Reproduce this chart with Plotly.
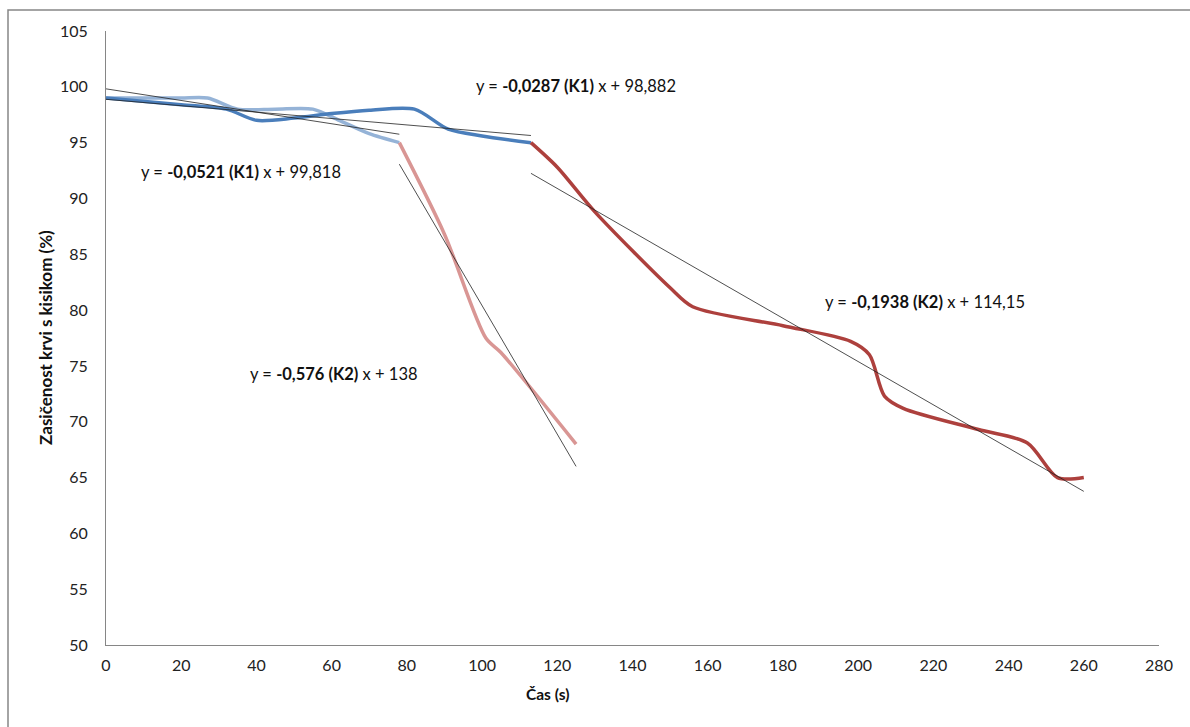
import plotly.graph_objects as go

# ---- data ----
k1a_x = [0, 10, 20, 27, 35, 45, 55, 62, 70, 78]
k1a_y = [99, 99, 99, 99, 98, 98, 98, 97, 95.8, 95]

k1b_x = [0, 20, 32, 40, 50, 60, 70, 82, 91, 100, 113]
k1b_y = [99, 98.4, 98, 97, 97.2, 97.6, 97.9, 98, 96.2, 95.6, 95]

k2a_x = [78, 90, 101, 105, 125]
k2a_y = [95, 86.8, 77.5, 76.2, 68]

k2b_x = [113, 120, 130, 150, 156, 180, 198, 203, 207, 212, 232, 245, 253, 260]
k2b_y = [95, 92.8, 88.8, 82, 80.3, 78.6, 77.2, 76, 72.3, 71.2, 69.3, 68.1, 65, 65]

trend_slopes = [-0.0521, -0.0287, -0.576, -0.1938]
trend_intercepts = [99.818, 98.882, 138, 114.15]
trend_x0 = [0, 0, 78, 113]
trend_x1 = [78, 113, 125, 260]
trend_labels = [
    "y = <b>-0,0521 (K1)</b> x + 99,818",
    "y = <b>-0,0287 (K1)</b> x + 98,882",
    "y = <b>-0,576 (K2)</b> x + 138",
    "y = <b>-0,1938 (K2)</b> x + 114,15",
]
label_pos = [(36, 92.4), (125, 100.1), (60.6, 74.3), (217.8, 80.7)]

x_ticks = list(range(0, 281, 20))
y_ticks = list(range(50, 106, 5))

x_title = "Čas (s)"
y_title = "Zasičenost krvi s kisikom (%)"

col_k1b = "#4A7EBB"
col_k1a = "#95B3D7"
col_k2a = "#D99694"
col_k2b = "#AD403D"

fig = go.Figure()
for xs, ys, c in [(k1a_x, k1a_y, col_k1a), (k1b_x, k1b_y, col_k1b),
                  (k2a_x, k2a_y, col_k2a), (k2b_x, k2b_y, col_k2b)]:
    fig.add_trace(go.Scatter(x=xs, y=ys, mode="lines",
                             line=dict(color=c, width=3.5, shape="spline", smoothing=0.8),
                             showlegend=False, hoverinfo="skip"))

for m, b, x0, x1 in zip(trend_slopes, trend_intercepts, trend_x0, trend_x1):
    fig.add_trace(go.Scatter(x=[x0, x1], y=[m * x0 + b, m * x1 + b], mode="lines",
                             line=dict(color="#222222", width=0.8),
                             showlegend=False, hoverinfo="skip"))

for txt, (lx, ly) in zip(trend_labels, label_pos):
    fig.add_annotation(x=lx, y=ly, text=txt, showarrow=False,
                       xanchor="center", yanchor="middle",
                       font=dict(family="Lato", size=16.5, color="#111111"))

W, H = 1190, 727
L, R, T, B = 106, 31, 31, 82
pw, ph = W - L - R, H - T - B

def px2paper(px, py):
    return (px - L) / pw, (H - B - py) / ph

bx0, by0 = px2paper(8, 10)
bx1, by1 = px2paper(1250, 800)
fig.add_shape(type="rect", xref="paper", yref="paper", x0=bx0, y0=by1, x1=bx1, y1=by0,
              line=dict(color="#868686", width=1.5), layer="below")

tx, ty = px2paper(547, 694)
fig.add_annotation(xref="paper", yref="paper", x=tx, y=ty, text="<b>" + x_title + "</b>",
                   showarrow=False, xanchor="center", yanchor="middle",
                   font=dict(family="Lato", size=15.5, color="#111111"))
tx, ty = px2paper(45, 338)
fig.add_annotation(xref="paper", yref="paper", x=tx, y=ty, text="<b>" + y_title + "</b>",
                   textangle=-90, showarrow=False, xanchor="center", yanchor="middle",
                   font=dict(family="Lato", size=17, color="#111111"))

fig.update_layout(
    width=W, height=H,
    margin=dict(l=L, r=R, t=T, b=B),
    paper_bgcolor="white", plot_bgcolor="white",
    font=dict(family="Lato", size=14, color="#222222"),
    xaxis=dict(range=[0, 280], tickvals=x_ticks, showgrid=False, zeroline=False,
               showline=True, linecolor="#868686", linewidth=1,
               ticks="outside", ticklen=6, tickcolor="rgba(0,0,0,0)",
               tickfont=dict(size=16)),
    yaxis=dict(range=[50, 105], tickvals=y_ticks, showgrid=False, zeroline=False,
               showline=True, linecolor="#868686", linewidth=1,
               ticks="outside", ticklen=14, tickcolor="rgba(0,0,0,0)",
               tickfont=dict(size=16)),
)

fig.write_html("out.html")
